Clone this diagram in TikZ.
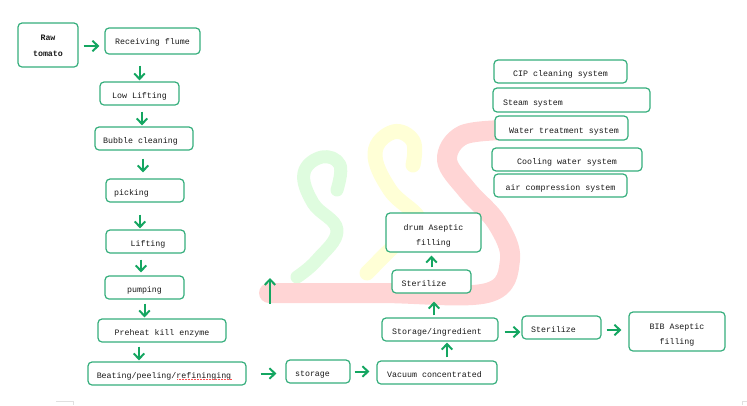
\documentclass[tikz,border=0pt]{standalone}
\usepackage{fontspec}
\setmainfont{Liberation Mono}
\usetikzlibrary{arrows.meta}
\definecolor{flowbox}{HTML}{35AE7C}
\definecolor{flowline}{HTML}{14A661}
\definecolor{markgreen}{HTML}{DFFCDF}
\definecolor{markyellow}{HTML}{FFFFD6}
\definecolor{markred}{HTML}{FFD5D5}
\tikzset{
  stepbox/.style={draw=flowbox, fill=white, line width=1.2pt, rounded corners=4pt,
               inner sep=0pt, align=center, text=black!90,
               text height=10pt, text depth=0pt,
               font=\fontsize{8.3}{15}\selectfont},
  twolinebox/.style={stepbox, text height=26pt},
  rawbox/.style={twolinebox, text height=23pt, font=\fontsize{8.3}{16}\selectfont\bfseries},
  nudge/.style={execute at begin node={\hskip#1pt}},
  flow/.style={draw=flowline, line width=2pt,
               -{Straight Barb[length=5.5pt,width=10.5pt]}},
  mark/.style={line cap=round, line join=round, line width=#1},
  pagecorner/.style={draw=black!12, line width=0.6pt},
}
\begin{document}
\begin{tikzpicture}[x=1pt, y=-1pt]
    \useasboundingbox (0,0) rectangle (747,405);
    % faded marks behind the boxes
    \draw[mark=13pt, markgreen] plot[smooth, tension=0.7] coordinates {(337,190) (340,165) (322,157) (304,173) (313,203) (337,230) (317,260) (297,277)};
    \draw[mark=15pt, markyellow] plot[smooth, tension=0.7] coordinates {(413,165) (413,141) (393,132) (375,153) (390,190) (420,222) (395,245) (367,273)};
    \draw[mark=20pt, markred] plot[smooth, tension=0.6] coordinates {(269,293) (380,293) (487,293) (510,260) (497,223) (467,190) (447,160) (463,135) (510,130)};
    % main line
    \node[rawbox, minimum width=60, minimum height=44] (raw) at (48,45) {Raw\\tomato};
    \node[stepbox, minimum width=95, minimum height=26, text height=7pt] (flume) at (152.5,41) {Receiving flume};
    \node[stepbox, minimum width=79, minimum height=23] (low) at (139.5,93.5) {Low Lifting};
    \node[stepbox, minimum width=98, minimum height=23, nudge=-7] (bubble) at (144,138.5) {Bubble cleaning};
    \node[stepbox, minimum width=78, minimum height=23, nudge=-27] (picking) at (145,190.5) {picking};
    \node[stepbox, minimum width=79, minimum height=23, nudge=5] (lifting) at (145.5,241.5) {Lifting};
    \node[stepbox, minimum width=79, minimum height=23] (pumping) at (144.5,287.5) {pumping};
    \node[stepbox, minimum width=128, minimum height=23] (preheat) at (162,330.5) {Preheat kill enzyme};
    \node[stepbox, minimum width=158, minimum height=23, nudge=-6] (beating) at (167,373.5) {Beating/peeling/refininging};
    \node[stepbox, minimum width=64, minimum height=23, nudge=-11] (storage) at (318,371.5) {storage};
    \node[stepbox, minimum width=120, minimum height=23, nudge=-5] (vacuum) at (437,372.5) {Vacuum concentrated};
    \node[stepbox, minimum width=116, minimum height=23, nudge=-6] (ingredient) at (440,329.5) {Storage/ingredient};
    \node[stepbox, minimum width=79, minimum height=23, nudge=-15] (sterilizeup) at (431.5,281.5) {Sterilize};
    \node[twolinebox, minimum width=95, minimum height=39] (drum) at (433.5,232.5) {drum Aseptic\\filling};
    \node[stepbox, minimum width=79, minimum height=23, nudge=-16] (sterilizeright) at (561.5,327.5) {Sterilize};
    \node[twolinebox, minimum width=96, minimum height=39] (bib) at (677,331.5) {BIB Aseptic\\filling};
    % utility systems
    \node[stepbox, minimum width=133, minimum height=23] (cip) at (560.5,71.5) {CIP cleaning system};
    \node[stepbox, minimum width=157, minimum height=24, nudge=-77] (steam) at (571.5,100) {Steam system};
    \node[stepbox, minimum width=133, minimum height=24, nudge=5] (water) at (561.5,128) {Water treatment system};
    \node[stepbox, minimum width=150, minimum height=23] (cooling) at (567,159.5) {Cooling water system};
    \node[stepbox, minimum width=133, minimum height=23] (air) at (560.5,185.5) {air compression system};
    % arrows
    \draw[flow, shorten <=5pt, shorten >=5pt] ([yshift=-1pt]raw.east) -- ([yshift=-1pt]raw.east -| flume.west);
    \draw[flow, shorten <=11pt, shorten >=1pt] (flume.south -| low.north) -- (low.north);
    \draw[flow, shorten <=6pt, shorten >=1pt] ([xshift=2.5pt]low.south) -- ([xshift=2.5pt]low.south |- bubble.north);
    \draw[flow, shorten <=8pt, shorten >=6pt] ([xshift=-1pt]bubble.south) -- ([xshift=-1pt]bubble.south |- picking.north);
    \draw[flow, shorten <=12pt, shorten >=1pt] ([xshift=-5pt]picking.south) -- ([xshift=-5pt]picking.south |- lifting.north);
    \draw[flow, shorten <=6pt, shorten >=3pt] ([xshift=-3.5pt]pumping.north |- lifting.south) -- ([xshift=-3.5pt]pumping.north);
    \draw[flow, shorten <=4pt, shorten >=1pt] (pumping.south) -- (pumping.south |- preheat.north);
    \draw[flow, shorten <=4pt, shorten >=1pt] ([xshift=-23pt]preheat.south) -- ([xshift=-23pt]preheat.south |- beating.north);
    \draw[flow, shorten <=14pt, shorten >=9pt] (beating.east) -- (beating.east -| storage.west);
    \draw[flow, shorten <=4pt, shorten >=7pt] (storage.east) -- (storage.east -| vacuum.west);
    \draw[flow, shorten <=3pt, shorten >=1pt] ([xshift=10pt]vacuum.north) -- ([xshift=10pt]vacuum.north |- ingredient.south);
    \draw[flow, shorten <=2pt, shorten >=8pt] ([xshift=-6pt]ingredient.north) -- ([xshift=-6pt]ingredient.north |- sterilizeup.south);
    \draw[flow, shorten <=2pt, shorten >=3pt] (sterilizeup.north) -- (sterilizeup.north |- drum.south);
    \draw[flow, shorten <=6pt, shorten >=1pt] ([yshift=-2.5pt]ingredient.east) -- ([yshift=-2.5pt]ingredient.east -| sterilizeright.west);
    \draw[flow, shorten <=5pt, shorten >=7pt] ([yshift=-2.5pt]sterilizeright.east) -- ([yshift=-2.5pt]sterilizeright.east -| bib.west);
    \coordinate (risetail) at (270,304);
    \coordinate (risetip) at (270,278);
    \draw[flow] (risetail) -- (risetip);
    % spell check underline and page corners
    \draw[red!70, line width=0.5pt, densely dotted] (177,379.5) -- (232,379.5);
    \draw[pagecorner] (56,401) -- (73,401) -- (73,405);
    \draw[pagecorner] (747,401) -- (742,401) -- (742,405);
\end{tikzpicture}
\end{document}
